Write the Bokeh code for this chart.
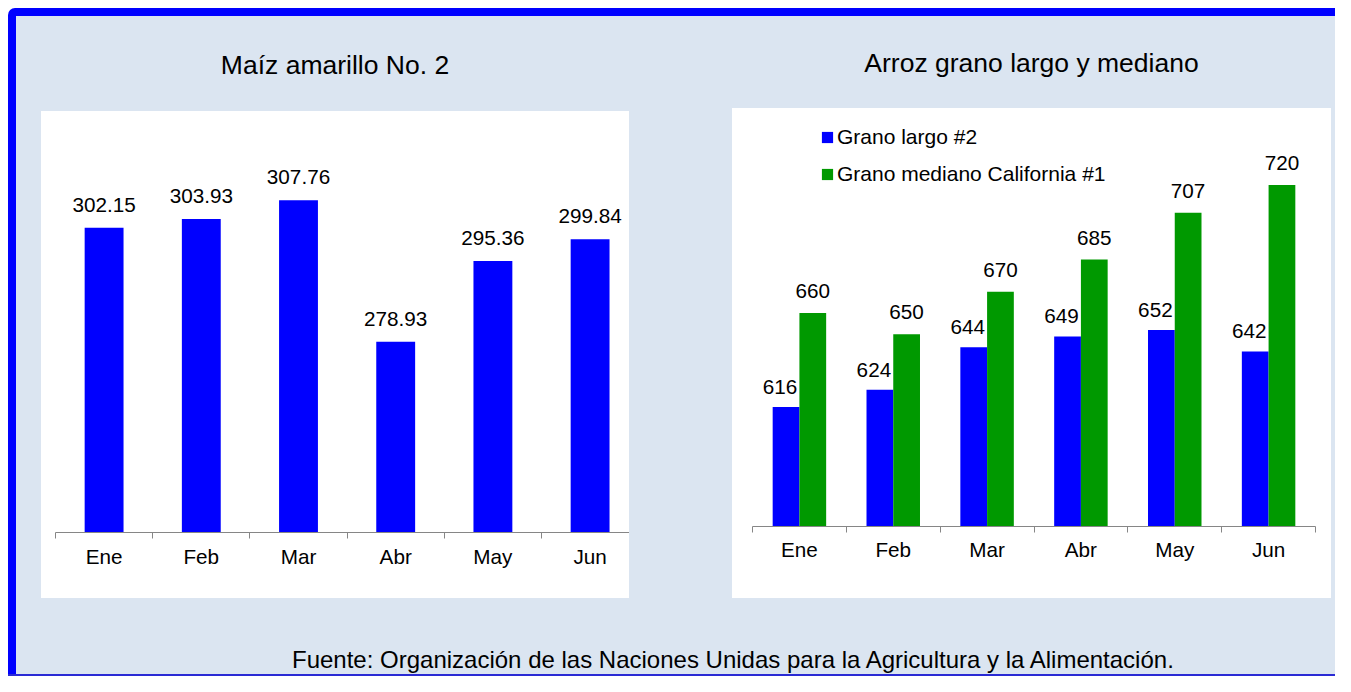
import numpy as np
from bokeh.plotting import figure
from bokeh.models import Range1d, FixedTicker, Legend, LegendItem, Div, Spacer
from bokeh.layouts import column, row
from bokeh.core.properties import value
from bokeh.embed import file_html
from bokeh.resources import INLINE

# ---------------- data ----------------
months = ["Ene", "Feb", "Mar", "Abr", "May", "Jun"]
maiz = [302.15, 303.93, 307.76, 278.93, 295.36, 299.84]
arroz_largo = [616, 624, 644, 649, 652, 642]
arroz_mediano = [660, 650, 670, 685, 707, 720]
title_maiz = "Maíz amarillo No. 2"
title_arroz = "Arroz grano largo y mediano"
legend_labels = ["Grano largo #2", "Grano mediano California #1"]
footer_text = "Fuente: Organización de las Naciones Unidas para la Agricultura y la Alimentación."

# ---------------- style ----------------
FONT = "Liberation Sans"
BG = "#DBE5F1"
BLUE = "#0000FF"
GREEN = "#009900"
AXIS = "#868686"
MAIZ_MIN, MAIZ_MAX = 240, 321.8
ARROZ_MIN, ARROZ_MAX = 560, 751.1

idx = np.arange(len(months))
centers = idx + 0.5


def style_axis(p, standoff):
    ax = p.xaxis[0]
    ax.ticker = FixedTicker(ticks=[float(c) for c in centers],
                            minor_ticks=[float(i) for i in range(len(months) + 1)])
    ax.major_label_overrides = {float(c): m for c, m in zip(centers, months)}
    ax.major_tick_line_color = None
    ax.major_tick_out = 0
    ax.major_tick_in = 0
    ax.minor_tick_line_color = AXIS
    ax.minor_tick_out = 6
    ax.minor_tick_in = 0
    ax.axis_line_color = AXIS
    ax.axis_line_width = 1
    ax.major_label_text_font = FONT
    ax.major_label_text_font_size = "20.7px"
    ax.major_label_text_color = "black"
    ax.major_label_standoff = standoff
    p.grid.visible = False


# ---------------- left chart ----------------
p1 = figure(width=588, height=487, title=None,
            x_range=Range1d(0, 574 / 97.2), y_range=Range1d(MAIZ_MIN, MAIZ_MAX),
            output_backend="svg", toolbar_location=None, y_axis_location=None,
            min_border_left=14, min_border_right=0, min_border_top=20, min_border_bottom=66,
            background_fill_color="white", border_fill_color="white",
            outline_line_color=None, margin=0, styles={"background-color": "white"})
p1.vbar(x=centers, top=maiz, bottom=MAIZ_MIN, width=0.4, fill_color=BLUE, line_color=None)
p1.text(x=centers, y=maiz, text=[f"{v:.2f}" for v in maiz], text_align="center",
        text_baseline="alphabetic", y_offset=-23, text_font=value(FONT),
        text_font_size="20.7px", text_color="black")
style_axis(p1, 6)

# ---------------- right chart ----------------
p2 = figure(width=599, height=490, title=None,
            x_range=Range1d(0, 6), y_range=Range1d(ARROZ_MIN, ARROZ_MAX),
            output_backend="svg", toolbar_location=None, y_axis_location=None,
            min_border_left=20, min_border_right=16, min_border_top=10, min_border_bottom=72,
            background_fill_color="white", border_fill_color="white",
            outline_line_color=None, margin=0, styles={"background-color": "white"})
bw = 0.285
r_b = p2.vbar(x=centers - bw / 2, top=arroz_largo, bottom=ARROZ_MIN, width=bw,
              fill_color=BLUE, line_color=None)
r_g = p2.vbar(x=centers + bw / 2, top=arroz_mediano, bottom=ARROZ_MIN, width=bw,
              fill_color=GREEN, line_color=None)
p2.text(x=centers - bw / 2, y=arroz_largo, text=[str(v) for v in arroz_largo],
        text_align="center", text_baseline="alphabetic", y_offset=-20, x_offset=-6,
        text_font=value(FONT), text_font_size="20.7px", text_color="black")
p2.text(x=centers + bw / 2, y=arroz_mediano, text=[str(v) for v in arroz_mediano],
        text_align="center", text_baseline="alphabetic", y_offset=-22,
        text_font=value(FONT), text_font_size="20.7px", text_color="black")
style_axis(p2, 5)

legend = Legend(items=[LegendItem(label=legend_labels[0], renderers=[r_b]),
                       LegendItem(label=legend_labels[1], renderers=[r_g])],
                location=(68, 340), padding=0, margin=0, spacing=13,
                glyph_width=14, glyph_height=14, label_standoff=3, label_height=23,
                label_text_font=FONT, label_text_font_size="21px", label_text_color="black",
                border_line_color=None, background_fill_alpha=0)
p2.add_layout(legend)


# ---------------- texts / frame ----------------
def text_div(txt, w, h, top, size, align="center"):
    html = (f'<div style="margin:0;padding:{top}px 0 0 0;font-family:\'{FONT}\';'
            f'font-size:{size}px;line-height:1;color:#000;text-align:{align};'
            f'white-space:nowrap;width:{w}px;">{txt}</div>')
    return Div(text=html, width=w, height=h, margin=0)


title_l = text_div(title_maiz, 588, 95, 36, 26.5)
title_r = text_div(title_arroz, 599, 92, 34, 26.5)
col_l = column(title_l, p1, spacing=0)
col_r = column(title_r, p2, spacing=0)
top_row = row(Spacer(width=25, height=10), col_l, Spacer(width=103, height=10), col_r,
              Spacer(width=4, height=10), spacing=0)
footer = row(Spacer(width=276, height=76), text_div(footer_text, 1043, 76, 50, 24.0, "left"),
             spacing=0)
content = column(top_row, footer, spacing=0, styles={"background-color": BG})

top_border = Div(text="", width=1327, height=8, margin=0,
                 styles={"background-color": BLUE, "border-top-left-radius": "7px"})
left_border = Div(text="", width=8, height=658, margin=0, styles={"background-color": BLUE})
bottom_border = Div(text="", width=1327, height=2, margin=0,
                    styles={"background-color": "#2A2AD4"})

frame = column(top_border, row(left_border, content, spacing=0), bottom_border, spacing=0)
page = column(Spacer(width=1335, height=8),
              row(Spacer(width=8, height=668), frame, spacing=0),
              spacing=0, styles={"background-color": "white"})

with open("out.html", "w", encoding="utf-8") as f:
    f.write(file_html(page, INLINE))
